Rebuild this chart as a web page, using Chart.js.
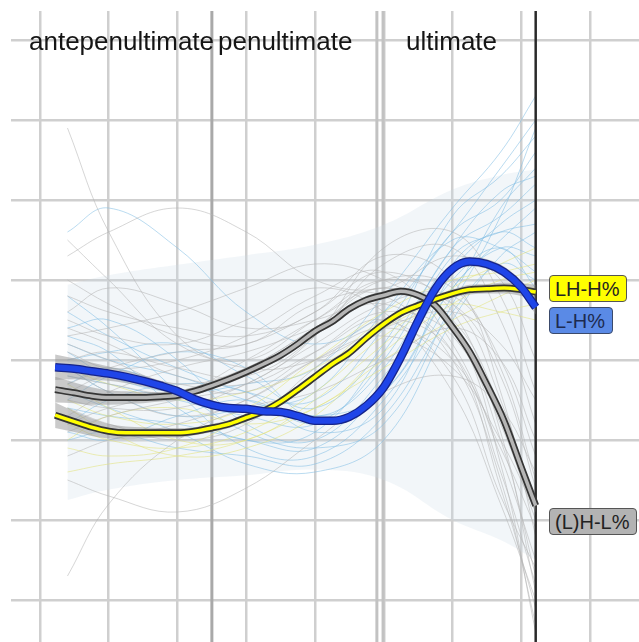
<!DOCTYPE html>
<html>
<head>
<meta charset="utf-8">
<script src="https://cdn.jsdelivr.net/npm/chart.js@4.4.0/dist/chart.umd.min.js"></script>
<style>
body{margin:0;background:#fff;font-family:"Liberation Sans",Arial,sans-serif;}
#wrap{position:relative;width:639px;height:642px;overflow:hidden;}
#g1{display:block;}
.hd{position:absolute;top:28px;font-size:26px;line-height:26px;color:#151515;white-space:nowrap;}
.tag{position:absolute;box-sizing:border-box;height:27px;border:1.5px solid #555;border-radius:4px;font-size:20px;line-height:24px;padding:1px 0 0 5px;color:#222;white-space:nowrap;}
</style>
</head>
<body>
<div id="wrap">
<canvas id="g1" width="639" height="642"></canvas>
<div class="hd" style="left:29px">antepenultimate</div>
<div class="hd" style="left:218px">penultimate</div>
<div class="hd" style="left:406px">ultimate</div>
<div class="tag" style="left:549px;top:275px;width:78px;background:#ffff00;">LH-H%</div>
<div class="tag" style="left:549px;top:307px;width:64px;background:#5a8ae6;color:#1d2b50;border-color:#3b4a6b;">L-H%</div>
<div class="tag" style="left:549px;top:508px;width:88px;background:#b3b3b3;">(L)H-L%</div>
</div>
<script>
//waktu (satuan grid) untuk kontur rata-rata
var waktu = [0.22, 0.5, 0.75, 1, 1.25, 1.5, 1.75, 2, 2.25, 2.5, 2.75, 3, 3.25, 3.5, 3.75,
             4, 4.25, 4.5, 4.75, 5, 5.25, 5.5, 5.75, 6, 6.25, 6.5, 6.75, 7, 7.21];

// LH-H%
var lhh = [2.31, 2.23, 2.16, 2.11, 2.09, 2.09, 2.09, 2.09, 2.11, 2.15, 2.20, 2.28, 2.36, 2.48, 2.63,
           2.79, 2.95, 3.09, 3.28, 3.45, 3.59, 3.68, 3.76, 3.83, 3.88, 3.89, 3.90, 3.88, 3.85];
// L-H%
var lh = [2.91, 2.89, 2.86, 2.83, 2.79, 2.74, 2.68, 2.61, 2.51, 2.44, 2.40, 2.39, 2.36, 2.35, 2.30,
          2.24, 2.24, 2.29, 2.43, 2.66, 3.04, 3.49, 3.89, 4.14, 4.23, 4.20, 4.10, 3.91, 3.66];
// (L)H-L%
var hl = [2.63, 2.59, 2.55, 2.53, 2.53, 2.53, 2.54, 2.56, 2.61, 2.68, 2.76, 2.85, 2.95, 3.06, 3.20,
          3.36, 3.48, 3.64, 3.75, 3.81, 3.86, 3.81, 3.68, 3.41, 3.10, 2.69, 2.24, 1.66, 1.18];
// setengah lebar pita kepercayaan
var ciHalf = [0.16, 0.13, 0.11, 0.09, 0.08, 0.07, 0.06, 0.06, 0.05, 0.05, 0.05, 0.05, 0.05, 0.05, 0.05,
              0.05, 0.05, 0.05, 0.05, 0.05, 0.05, 0.05, 0.05, 0.05, 0.06, 0.06, 0.07, 0.08, 0.09];

//kontur individual (tipis)
var waktuTipis = [0.4, 1, 2, 3, 4, 5, 6, 6.7, 7.21];
var awanAtas = [3.94, 4.06, 4.19, 4.31, 4.44, 4.69, 5.13, 5.31, 5.38];
var awanBawah = [1.25, 1.38, 1.5, 1.56, 1.63, 1.5, 1.0, 0.75, 0.5];

var tipisBiru = [
    [2.8, 2.7, 2.5, 2.3, 2.2, 3.0, 4.4, 4.8, 5.2],
    [3.2, 3.0, 2.8, 2.5, 2.3, 2.6, 3.9, 4.5, 4.9],
    [2.4, 2.3, 2.2, 2.0, 1.9, 2.7, 4.2, 4.6, 4.4],
    [3.6, 3.3, 2.9, 2.6, 2.5, 3.4, 4.6, 5.0, 5.6],
    [2.0, 2.1, 1.9, 1.8, 1.7, 2.3, 3.6, 4.2, 4.0],
    [3.0, 3.1, 3.2, 2.8, 2.4, 3.2, 4.8, 5.3, 5.8],
    [2.6, 2.4, 2.1, 1.7, 1.6, 2.0, 3.5, 4.3, 4.6],
    [3.4, 3.5, 3.0, 2.2, 2.0, 2.8, 4.0, 4.4, 3.9],
    [2.2, 2.5, 2.7, 2.6, 2.1, 2.4, 4.1, 4.7, 5.0],
    [2.9, 2.6, 2.3, 2.4, 2.6, 3.6, 4.5, 4.4, 4.1],
    [4.6, 4.9, 4.4, 3.6, 3.2, 3.6, 4.6, 5.4, 6.0],
    [3.8, 3.4, 2.6, 1.9, 1.8, 2.5, 3.8, 4.9, 5.4],
    [2.5, 2.8, 3.1, 2.9, 2.3, 2.9, 4.3, 4.6, 4.7],
    [2.7, 2.9, 2.6, 2.1, 1.9, 2.2, 3.7, 4.8, 5.9],
    [3.3, 3.1, 2.4, 2.0, 2.1, 3.1, 4.4, 5.1, 5.3],
    [2.1, 2.0, 2.3, 2.5, 2.2, 2.6, 3.9, 4.4, 4.3],
    [3.1, 2.8, 2.6, 2.7, 2.9, 3.8, 4.9, 5.6, 6.3]
];
var tipisKuning = [
    [2.2, 2.0, 1.9, 2.1, 2.6, 3.3, 3.8, 3.9, 3.9],
    [2.5, 2.3, 2.2, 2.4, 3.0, 3.6, 4.0, 4.1, 4.2],
    [1.9, 1.8, 1.9, 2.3, 2.8, 3.5, 3.7, 3.6, 3.5],
    [2.7, 2.4, 2.0, 2.0, 2.5, 3.2, 3.9, 4.2, 4.4],
    [2.0, 2.3, 2.4, 2.2, 2.4, 3.0, 3.5, 3.8, 4.0],
    [1.6, 1.7, 1.8, 2.0, 2.4, 2.9, 3.4, 3.6, 3.7],
    [2.4, 2.1, 1.8, 1.9, 2.3, 3.1, 3.7, 4.0, 4.1],
    [2.9, 2.7, 2.5, 2.6, 2.9, 3.4, 3.8, 3.9, 3.8]
];
var tipisAbu = [
    [2.8, 2.7, 2.6, 3.0, 3.5, 3.9, 3.5, 2.4, 1.2],
    [3.1, 2.9, 3.0, 3.3, 3.8, 4.1, 3.2, 1.8, 0.5],
    [2.5, 2.4, 2.4, 2.7, 3.2, 3.7, 3.8, 3.0, 1.8],
    [3.5, 3.3, 3.2, 3.5, 3.9, 3.6, 2.6, 1.2, 0.0],
    [2.2, 2.4, 2.6, 2.9, 3.4, 4.0, 3.9, 2.9, 1.5],
    [3.8, 3.6, 3.4, 3.3, 3.6, 4.3, 4.0, 2.6, 0.8],
    [2.9, 2.6, 2.3, 2.5, 3.0, 3.4, 3.0, 1.9, 0.9],
    [3.3, 3.4, 3.6, 3.9, 4.2, 4.0, 3.4, 2.2, 1.0],
    [2.6, 2.8, 2.7, 2.6, 3.1, 3.6, 3.3, 2.0, 0.3],
    [3.0, 3.1, 2.9, 2.8, 3.3, 4.2, 4.4, 3.5, 2.2],
    [1.8, 2.0, 2.2, 2.5, 3.0, 3.3, 2.9, 2.0, 1.1],
    [4.0, 3.7, 3.3, 3.2, 3.7, 3.8, 3.0, 1.5, -0.3],
    [5.9, 4.6, 3.3, 2.9, 3.0, 3.4, 3.6, 3.2, 2.5],
    [0.3, 1.2, 2.0, 2.4, 2.6, 3.0, 3.4, 3.0, 2.0],
    [1.5, 1.3, 1.1, 1.4, 2.0, 2.6, 2.8, 2.4, 1.6],
    [4.3, 4.6, 4.9, 4.6, 4.0, 3.9, 4.3, 4.0, 3.0],
    [3.6, 3.9, 3.7, 3.4, 3.5, 3.8, 3.7, 2.8, 1.4],
    [2.4, 2.2, 2.0, 2.2, 2.9, 3.5, 3.1, 1.6, 0.2],
    [2.7, 2.9, 3.1, 3.2, 3.6, 4.1, 3.6, 2.1, 0.1],
    [3.2, 3.0, 2.7, 2.9, 3.4, 3.9, 3.4, 1.7, -0.4],
    [2.3, 2.6, 2.9, 3.1, 3.4, 3.7, 3.1, 1.4, -0.1],
    [3.4, 3.2, 2.8, 2.7, 3.1, 3.5, 2.8, 1.3, 0.4],
    [2.1, 2.3, 2.5, 2.7, 3.3, 4.4, 4.6, 3.8, 2.6],
    [4.5, 4.0, 3.2, 3.0, 3.5, 4.0, 3.7, 2.5, 1.1]
];

//batas suku kata
var batasSuku = [2.5, 4.9, 4.99];
var batasAkhir = 7.21;

var xTicks = [0, 1, 2, 3, 4, 5, 6, 7, 8];
var yTicks = [0, 1, 2, 3, 4, 5, 6, 7];

function titik(xs, ys) {
    return xs.map(function(x, i) {
        return {x: x, y: ys[i]};
    });
}

var datasets = [];

// garis vertikal batas
batasSuku.forEach(function(b, i) {
    datasets.push({
        data: [{x: b, y: -1}, {x: b, y: 8}],
        borderColor: i == 0 ? '#a9a9a9' : '#c2c2c2',
        borderWidth: 3,
        pointRadius: 0,
        order: 100
    });
});

// awan kontur
datasets.push({
    data: titik(waktuTipis, awanAtas),
    borderColor: 'rgba(0,0,0,0)', borderWidth: 0, pointRadius: 0,
    tension: 0.4, order: 95
});
datasets.push({
    data: titik(waktuTipis, awanBawah),
    borderColor: 'rgba(0,0,0,0)', borderWidth: 0, pointRadius: 0,
    tension: 0.4, fill: '-1', backgroundColor: 'rgba(205,220,230,0.25)', order: 94
});

function tambahTipis(list, warna) {
    list.forEach(function(ys) {
        datasets.push({
            data: titik(waktuTipis, ys),
            borderColor: warna,
            borderWidth: 1,
            pointRadius: 0,
            tension: 0.4,
            order: 80
        });
    });
}
tambahTipis(tipisAbu, 'rgba(180,180,180,0.55)');
tambahTipis(tipisKuning, 'rgba(225,225,120,0.55)');
tambahTipis(tipisBiru, 'rgba(130,190,228,0.55)');

// garis akhir (hitam)
datasets.push({
    data: [{x: batasAkhir, y: -1}, {x: batasAkhir, y: 8}],
    borderColor: '#2a2a2a',
    borderWidth: 2.5,
    pointRadius: 0,
    order: 60
});

// pita kepercayaan
[hl, lhh, lh].forEach(function(ys) {
    datasets.push({
        data: titik(waktu, ys.map(function(v, i) { return v + ciHalf[i]; })),
        borderColor: 'rgba(0,0,0,0)', borderWidth: 0, pointRadius: 0,
        cubicInterpolationMode: 'monotone', order: 50
    });
    datasets.push({
        data: titik(waktu, ys.map(function(v, i) { return v - ciHalf[i]; })),
        borderColor: 'rgba(0,0,0,0)', borderWidth: 0, pointRadius: 0,
        cubicInterpolationMode: 'monotone', fill: '-1',
        backgroundColor: 'rgba(150,150,150,0.5)', order: 49
    });
});

// kontur rata-rata
var gaya = [
    {ys: hl, luar: '#353535', dalam: '#b5b5b5', wl: 7, wd: 3.5, o: 30},
    {ys: lhh, luar: '#353535', dalam: '#ffff00', wl: 7, wd: 3.5, o: 28},
    {ys: lh, luar: '#15238a', dalam: '#1f45e8', wl: 8.5, wd: 6, o: 26}
];
gaya.forEach(function(g) {
    datasets.push({
        data: titik(waktu, g.ys), borderColor: g.luar, borderWidth: g.wl,
        pointRadius: 0, cubicInterpolationMode: 'monotone', order: g.o
    });
    datasets.push({
        data: titik(waktu, g.ys), borderColor: g.dalam, borderWidth: g.wd,
        pointRadius: 0, cubicInterpolationMode: 'monotone', order: g.o - 1
    });
});

var ctx = document.getElementById('g1');

var myChart = new Chart(ctx, {
    type: 'line',
    data: {datasets: datasets},
    options: {
        responsive: false,
        animation: false,
        events: [],
        layout: {padding: {left: 11, top: 11, right: 0, bottom: 0}},
        plugins: {
            legend: {display: false},
            tooltip: {enabled: false}
        },
        scales: {
            x: {
                type: 'linear',
                min: -0.4218,
                max: 8.7127,
                afterBuildTicks: function(s) {
                    s.ticks = xTicks.map(function(v) { return {value: v}; });
                },
                grid: {color: '#cfcfcf', lineWidth: 2.5, drawTicks: false},
                border: {display: false},
                ticks: {display: false}
            },
            y: {
                type: 'linear',
                min: -0.525,
                max: 7.3625,
                afterBuildTicks: function(s) {
                    s.ticks = yTicks.map(function(v) { return {value: v}; });
                },
                grid: {color: '#cfcfcf', lineWidth: 2.5, drawTicks: false},
                border: {display: false},
                ticks: {display: false}
            }
        }
    }
});
</script>
</body>
</html>
